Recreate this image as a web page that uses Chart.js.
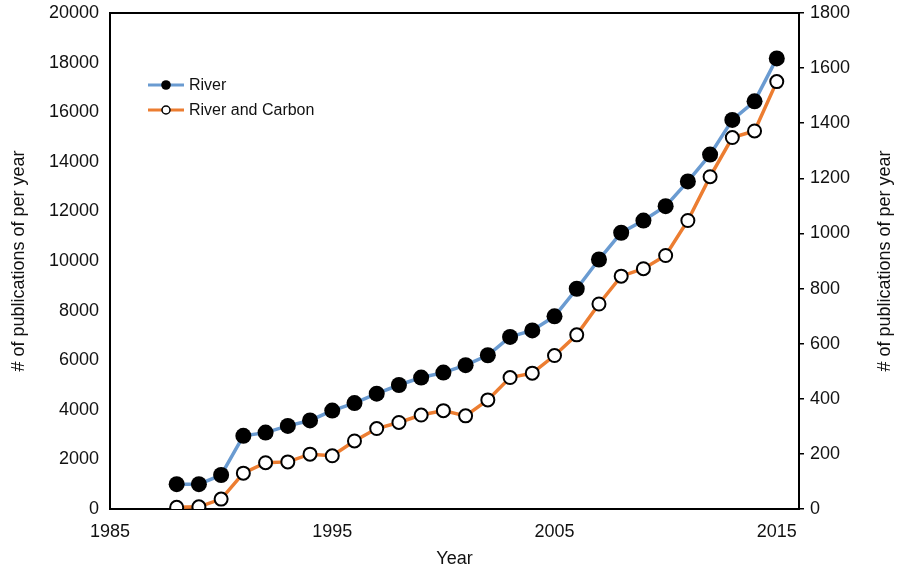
<!DOCTYPE html>
<html>
<head>
<meta charset="utf-8">
<script src="https://cdn.jsdelivr.net/npm/chart.js@4.4.1/dist/chart.umd.min.js"></script>
<style>
    html, body { margin: 0; padding: 0; background: #fff; }
    #wrap { position: relative; width: 898px; height: 570px; }
    #legend {
        position: absolute; left: 148px; top: 73px;
        font-family: "Liberation Sans", Arial, sans-serif; font-size: 16px; color: #111;
    }
    .legend-item { display: flex; align-items: center; height: 24.5px; }
    .legend-item svg { margin-right: 5px; }
</style>
</head>
<body>
<div id="wrap">
    <canvas id="pubChart" width="898" height="570"></canvas>
    <div id="legend"></div>
</div>
<script>
// Publications per year
const years = [1988, 1989, 1990, 1991, 1992, 1993, 1994, 1995, 1996, 1997,
               1998, 1999, 2000, 2001, 2002, 2003, 2004, 2005, 2006, 2007,
               2008, 2009, 2010, 2011, 2012, 2013, 2014, 2015];
// left axis
const riverCounts = [1000, 1000, 1370, 2950, 3080, 3350, 3570, 3970, 4270, 4650,
                     5000, 5300, 5500, 5800, 6200, 6940, 7200, 7770, 8880, 10060,
                     11140, 11630, 12210, 13210, 14290, 15690, 16440, 18170];
// right axis
const riverCarbonCounts = [6, 8, 36, 130, 168, 171, 199, 193, 247, 292,
                           314, 341, 357, 338, 396, 477, 493, 557, 632, 744,
                           845, 872, 920, 1047, 1206, 1348, 1372, 1551];
const xTicks = [1985, 1995, 2005, 2015];
const axisTitle = '# of publications of per year';

const FONT = '"Liberation Sans", Arial, sans-serif';
const TEXT = '#111';
const FONT_SIZE = 18;

function toPoints(values) {
    return years.map((yr, i) => ({ x: yr, y: values[i] }));
}

// Right-hand axis title reads bottom-to-top like the left one
const rightTitlePlugin = {
    id: 'rightTitle',
    afterDraw(chart) {
        const scale = chart.scales.y1;
        const area = chart.chartArea;
        const c = chart.ctx;
        c.save();
        c.translate(scale.right - 13, (area.top + area.bottom) / 2);
        c.rotate(-Math.PI / 2);
        c.font = `${FONT_SIZE}px ${FONT}`;
        c.fillStyle = TEXT;
        c.textAlign = 'center';
        c.textBaseline = 'middle';
        c.fillText(axisTitle, 0, 0);
        c.restore();
    }
};

const ctx = document.getElementById('pubChart');

const pubChart = new Chart(ctx, {
    type: 'line',
    data: {
        datasets: [
            {
                label: 'River',
                data: toPoints(riverCounts),
                yAxisID: 'y',
                borderColor: '#6a9bd1',
                borderWidth: 3.5,
                pointRadius: 8,
                pointBackgroundColor: '#000',
                pointBorderColor: '#000',
                pointBorderWidth: 0,
                tension: 0
            },
            {
                label: 'River and Carbon',
                data: toPoints(riverCarbonCounts),
                yAxisID: 'y1',
                borderColor: '#ec7d31',
                borderWidth: 3.5,
                pointRadius: 6.5,
                pointBackgroundColor: '#fff',
                pointBorderColor: '#000',
                pointBorderWidth: 2,
                tension: 0
            }
        ]
    },
    options: {
        responsive: false,
        animation: false,
        layout: { padding: 0 },
        plugins: {
            legend: { display: false },
            tooltip: { enabled: false }
        },
        scales: {
            x: {
                type: 'linear',
                position: 'bottom',
                min: 1985,
                max: 2016,
                afterBuildTicks: scale => { scale.ticks = xTicks.map(v => ({ value: v })); },
                afterFit: scale => { scale.height = 61; },
                grid: { display: false, drawTicks: false },
                border: { display: true, color: '#000', width: 2 },
                ticks: {
                    padding: 12,
                    color: TEXT,
                    font: { family: FONT, size: FONT_SIZE },
                    callback: v => String(v)
                },
                title: {
                    display: true,
                    text: 'Year',
                    color: TEXT,
                    font: { family: FONT, size: FONT_SIZE },
                    padding: { top: 0, bottom: 0 }
                }
            },
            xTop: {
                type: 'linear',
                position: 'top',
                min: 1985,
                max: 2016,
                afterFit: scale => { scale.height = 13; },
                grid: { display: false, drawTicks: false },
                border: { display: true, color: '#000', width: 2 },
                ticks: { display: false }
            },
            y: {
                type: 'linear',
                position: 'left',
                min: 0,
                max: 20000,
                afterFit: scale => {
                    scale.width = 110;
                    scale.paddingTop = 0;
                    scale.paddingBottom = 0;
                },
                grid: { display: false, drawTicks: false },
                border: { display: true, color: '#000', width: 2 },
                ticks: {
                    stepSize: 2000,
                    padding: 11,
                    color: TEXT,
                    font: { family: FONT, size: FONT_SIZE },
                    callback: v => String(v)
                },
                title: {
                    display: true,
                    text: axisTitle,
                    color: TEXT,
                    font: { family: FONT, size: FONT_SIZE },
                    padding: { top: 8, bottom: 0 }
                }
            },
            y1: {
                type: 'linear',
                position: 'right',
                min: 0,
                max: 1800,
                afterFit: scale => {
                    scale.width = 99;
                    scale.paddingTop = 0;
                    scale.paddingBottom = 0;
                },
                grid: {
                    display: true,
                    drawOnChartArea: false,
                    drawTicks: true,
                    tickLength: 5,
                    color: '#000',
                    lineWidth: 1.5
                },
                border: { display: true, color: '#000', width: 2 },
                ticks: {
                    stepSize: 200,
                    padding: 6,
                    color: TEXT,
                    font: { family: FONT, size: FONT_SIZE },
                    callback: v => String(v)
                },
                title: { display: false }
            }
        }
    },
    plugins: [rightTitlePlugin]
});

// HTML legend built from the chart's datasets (sits inside the plot, upper left)
function buildLegend(chart) {
    const box = document.getElementById('legend');
    box.innerHTML = '';
    chart.data.datasets.forEach(ds => {
        const filled = ds.pointBackgroundColor === '#000';
        const item = document.createElement('div');
        item.className = 'legend-item';
        const svgNS = 'http://www.w3.org/2000/svg';
        const svg = document.createElementNS(svgNS, 'svg');
        svg.setAttribute('width', '36');
        svg.setAttribute('height', '14');
        const line = document.createElementNS(svgNS, 'line');
        line.setAttribute('x1', '0'); line.setAttribute('x2', '36');
        line.setAttribute('y1', '7'); line.setAttribute('y2', '7');
        line.setAttribute('stroke', ds.borderColor);
        line.setAttribute('stroke-width', '3');
        const dot = document.createElementNS(svgNS, 'circle');
        dot.setAttribute('cx', '18'); dot.setAttribute('cy', '7');
        dot.setAttribute('r', filled ? '4.8' : '4');
        dot.setAttribute('fill', ds.pointBackgroundColor);
        dot.setAttribute('stroke', ds.pointBorderColor);
        dot.setAttribute('stroke-width', filled ? '0' : '1.5');
        svg.appendChild(line);
        svg.appendChild(dot);
        const label = document.createElement('span');
        label.textContent = ds.label;
        item.appendChild(svg);
        item.appendChild(label);
        box.appendChild(item);
    });
}

buildLegend(pubChart);
</script>
</body>
</html>
